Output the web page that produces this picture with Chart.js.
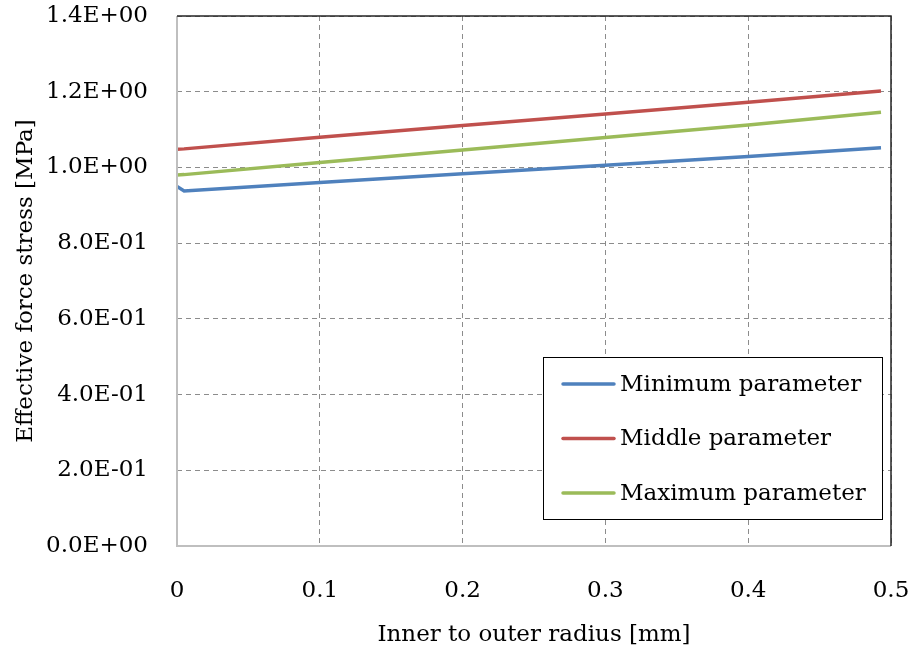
<!DOCTYPE html>
<html>
<head>
<meta charset="utf-8">
<script src="https://cdn.jsdelivr.net/npm/chart.js@4/dist/chart.umd.min.js"></script>
<style>
  html, body { margin: 0; padding: 0; background: #fff; }
  #wrap { width: 912px; height: 653px; position: relative; }
</style>
</head>
<body>
<div id="wrap"><canvas id="grafico"></canvas></div>
<script>
// radius ratio (x) and effective force stress (y) for each parameter set
const radios = [0, 0.005, 0.1, 0.2, 0.3, 0.4, 0.493];
const minimo = [0.950, 0.938, 0.960, 0.983, 1.006, 1.029, 1.052];
const medio = [1.048, 1.049, 1.080, 1.111, 1.141, 1.172, 1.202];
const maximo = [0.980, 0.981, 1.013, 1.046, 1.079, 1.112, 1.146];
const nombres = ['Minimum parameter', 'Middle parameter', 'Maximum parameter'];
const colores = ['#4f81bd', '#c0504d', '#9bbb59'];

const fuente = "'DejaVu Serif', 'Liberation Serif', serif";

const puntos = (ys) => radios.map((x, i) => ({ x: x, y: ys[i] }));

// Excel style scientific labels: 1.4E+00, 8.0E-01
function formatoCientifico(v) {
    if (v === 0) return '0.0E+00';
    const exp = Math.floor(Math.log10(Math.abs(v)) + 1e-9);
    const man = v / Math.pow(10, exp);
    const signo = exp < 0 ? '-' : '+';
    return man.toFixed(1) + 'E' + signo + String(Math.abs(exp)).padStart(2, '0');
}

const marco = {
    id: 'marco',
    afterDraw(chart) {
        const { ctx, chartArea: a } = chart;
        ctx.save();
        // left and bottom axes in light gray
        ctx.strokeStyle = '#bfbfbf';
        ctx.lineWidth = 2;
        ctx.beginPath();
        ctx.moveTo(a.left, a.top);
        ctx.lineTo(a.left, a.bottom);
        ctx.lineTo(a.right, a.bottom);
        ctx.stroke();
        // top and right border dark
        ctx.strokeStyle = '#262626';
        ctx.lineWidth = 1.5;
        ctx.beginPath();
        ctx.moveTo(a.left, a.top);
        ctx.lineTo(a.right, a.top);
        ctx.lineTo(a.right, a.bottom);
        ctx.stroke();

        // legend box inside the plot
        const bx = 543, by = 357, bw = 339, bh = 162;
        ctx.fillStyle = '#fff';
        ctx.fillRect(bx, by, bw, bh);
        ctx.strokeStyle = '#000';
        ctx.lineWidth = 1;
        ctx.strokeRect(bx + 0.5, by + 0.5, bw, bh);
        ctx.font = '23px ' + fuente;
        ctx.textBaseline = 'middle';
        ctx.lineCap = 'round';
        chart.data.datasets.forEach((ds, i) => {
            const yy = 384 + i * 54.5;
            ctx.strokeStyle = ds.borderColor;
            ctx.lineWidth = 3.5;
            ctx.beginPath();
            ctx.moveTo(563, yy);
            ctx.lineTo(614, yy);
            ctx.stroke();
            ctx.fillStyle = '#000';
            ctx.fillText(ds.label, 620, yy + 1);
        });
        ctx.restore();
    }
};

new Chart(document.getElementById('grafico'), {
    type: 'line',
    data: {
        datasets: [minimo, medio, maximo].map((serie, i) => ({
            label: nombres[i],
            data: puntos(serie),
            borderColor: colores[i],
            backgroundColor: colores[i],
            borderWidth: 3.5,
            pointRadius: 0,
            fill: false,
            tension: 0
        }))
    },
    options: {
        responsive: true,
        maintainAspectRatio: false,
        animation: false,
        layout: { padding: { top: 16, right: 21, left: 0, bottom: 0 } },
        plugins: { legend: { display: false }, tooltip: { enabled: false } },
        scales: {
            x: {
                type: 'linear',
                min: 0,
                max: 0.5,
                ticks: {
                    stepSize: 0.1,
                    padding: 31,
                    color: '#000',
                    font: { family: fuente, size: 23 },
                    callback: (v) => v === 0 ? '0' : v.toFixed(1)
                },
                grid: { color: '#8c8c8c', drawTicks: false, tickLength: 0 },
                border: { display: false, dash: [5, 4] },
                title: {
                    display: true,
                    text: 'Inner to outer radius [mm]',
                    color: '#000',
                    font: { family: fuente, size: 23 },
                    padding: { top: 12, bottom: 4 }
                },
                afterFit: (s) => {
                    s.height = 107;
                    s.paddingLeft = 0;
                    s.paddingRight = 0;
                }
            },
            y: {
                min: 0,
                max: 1.4,
                ticks: {
                    stepSize: 0.2,
                    padding: 29,
                    color: '#000',
                    font: { family: fuente, size: 23 },
                    callback: (v) => formatoCientifico(v)
                },
                grid: { color: '#8c8c8c', drawTicks: false, tickLength: 0 },
                border: { display: false, dash: [5, 4] },
                title: {
                    display: true,
                    text: 'Effective force stress [MPa]',
                    color: '#000',
                    font: { family: fuente, size: 23 },
                    padding: { top: 12, bottom: 10 }
                },
                afterFit: (s) => {
                    s.width = 177;
                    s.paddingTop = 0;
                    s.paddingBottom = 0;
                }
            }
        }
    },
    plugins: [marco]
});
</script>
</body>
</html>
